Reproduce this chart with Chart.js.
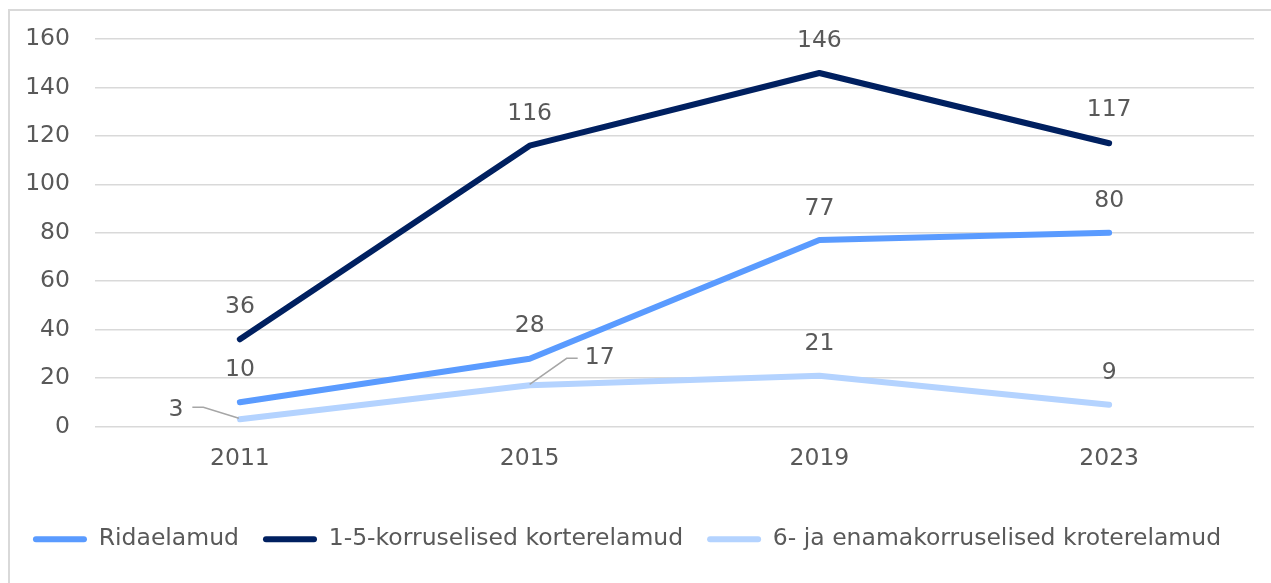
<!DOCTYPE html>
<html>
<head>
<meta charset="utf-8">
<script src="https://cdn.jsdelivr.net/npm/chart.js@4"></script>
<style>
  html, body { margin: 0; padding: 0; background: #fff; }
  #frame { position: absolute; left: 8px; top: 9px; width: 1300px; height: 600px;
           border-top: 2px solid #d9d9d9; border-left: 2px solid #d9d9d9; }
  #wrap { position: absolute; left: 0; top: 0; width: 1271px; height: 583px; }
</style>
</head>
<body>
<div id="frame"></div>
<div id="wrap"><canvas id="chart" width="1271" height="583"></canvas></div>
<script>
const years = ['2011', '2015', '2019', '2023'];
const ridaelamud = [10, 28, 77, 80];
const korter15 = [36, 116, 146, 117];
const korter6 = [3, 17, 21, 9];

const seriesNames = ['Ridaelamud', '1-5-korruselised korterelamud', '6- ja enamakorruselised kroterelamud'];
const seriesColors = ['#5a9bff', '#002060', '#b4d3ff'];

// label placement relative to the point (dx, dy, leader line)
const labelOffsets = [
    [[0, -32], [0, -33], [0, -31], [0, -32]],
    [[0, -32], [0, -32], [0, -32], [0, -33]],
    [[-64, -9, 'left'], [70, -27, 'right'], [0, -32], [0, -32]]
];

const textColor = '#595959';
const fontFamily = '"DejaVu Sans", Verdana, sans-serif';
const fontSize = 23.5;

const valueLabels = {
    id: 'valueLabels',
    afterDatasetsDraw(chart) {
        const ctx = chart.ctx;
        ctx.save();
        ctx.font = fontSize + 'px ' + fontFamily;
        ctx.fillStyle = textColor;
        ctx.textAlign = 'center';
        ctx.textBaseline = 'middle';
        chart.data.datasets.forEach((ds, i) => {
            const meta = chart.getDatasetMeta(i);
            meta.data.forEach((pt, j) => {
                const off = labelOffsets[i][j];
                const x = pt.x + off[0];
                const y = pt.y + off[1];
                const text = String(ds.data[j]);
                ctx.fillText(text, x, y);
                if (off[2]) {
                    const w = ctx.measureText(text).width;
                    ctx.strokeStyle = '#a6a6a6';
                    ctx.lineWidth = 1.5;
                    ctx.beginPath();
                    if (off[2] === 'left') {
                        const sx = x + w / 2 + 9;
                        ctx.moveTo(sx, y - 3);
                        ctx.lineTo(sx + 11, y - 3);
                        ctx.lineTo(pt.x - 1, pt.y - 1);
                    } else {
                        const sx = x - w / 2 - 7;
                        ctx.moveTo(sx, y);
                        ctx.lineTo(sx - 11, y);
                        ctx.lineTo(pt.x, pt.y - 1);
                    }
                    ctx.stroke();
                }
            });
        });
        ctx.restore();
    }
};

const allSeries = [ridaelamud, korter15, korter6];

new Chart(document.getElementById('chart'), {
    type: 'line',
    data: {
        labels: years,
        datasets: allSeries.map((vals, i) => ({
            label: seriesNames[i],
            data: vals,
            borderColor: seriesColors[i],
            backgroundColor: seriesColors[i],
            borderWidth: 6,
            borderCapStyle: 'round',
            borderJoinStyle: 'round',
            pointRadius: 0,
            tension: 0
        }))
    },
    options: {
        responsive: false,
        animation: false,
        layout: { padding: { top: 38, bottom: 22, left: 0, right: 17 } },
        plugins: {
            tooltip: { enabled: false },
            legend: {
                position: 'bottom',
                labels: {
                    color: textColor,
                    font: { family: fontFamily, size: fontSize },
                    boxWidth: 54,
                    boxHeight: 6,
                    padding: 24,
                    useBorderRadius: true,
                    borderRadius: 3,
                    generateLabels(chart) {
                        return chart.data.datasets.map((ds, i) => ({
                            text: ds.label,
                            fillStyle: ds.borderColor,
                            strokeStyle: ds.borderColor,
                            lineWidth: 0,
                            fontColor: textColor,
                            borderRadius: 3,
                            datasetIndex: i
                        }));
                    }
                }
            }
        },
        scales: {
            x: {
                offset: true,
                grid: { display: false, drawTicks: false },
                border: { display: false },
                ticks: { color: textColor, font: { family: fontFamily, size: fontSize }, padding: 18 },
                afterFit(axis) { axis.height = 77; }
            },
            y: {
                min: 0,
                max: 160,
                ticks: { stepSize: 20, color: textColor, font: { family: fontFamily, size: fontSize }, padding: 25 },
                grid: { color: '#d9d9d9', lineWidth: 1.5, drawTicks: false },
                border: { display: false },
                afterFit(axis) { axis.width = 95; }
            }
        }
    },
    plugins: [valueLabels]
});
</script>
</body>
</html>
